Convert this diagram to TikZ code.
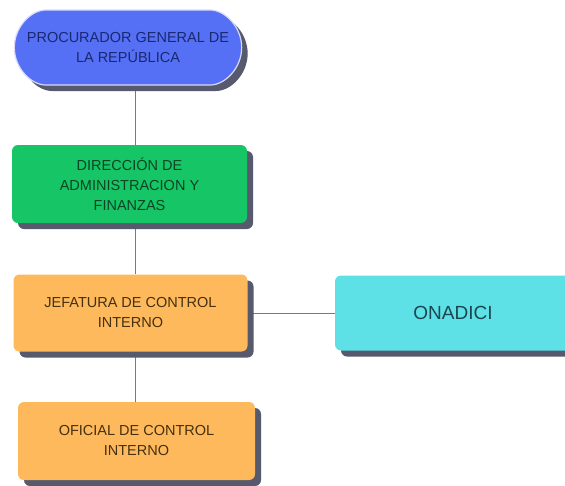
\documentclass[tikz,border=0pt]{standalone}
\usepackage{fontspec}
\setmainfont{Liberation Sans}
\usepackage{tikz}
\usetikzlibrary{shadows,backgrounds,shapes.misc}

\definecolor{pgrblue}{HTML}{5570F5}
\definecolor{pgrtext}{HTML}{1A2870}
\definecolor{dafgreen}{HTML}{16C566}
\definecolor{daftext}{HTML}{0C4424}
\definecolor{jciorange}{HTML}{FDB95C}
\definecolor{jcitext}{HTML}{45300F}
\definecolor{onacyan}{HTML}{5DE1E7}
\definecolor{onatext}{HTML}{1A4650}
\definecolor{shadowgray}{HTML}{565A6C}
\definecolor{linegray}{HTML}{7A7A7A}

\tikzset{
	orgbox/.style={rectangle, rounded corners=6pt, align=center,
		font=\fontsize{14.5}{20}\selectfont,
		drop shadow={shadow xshift=6pt, shadow yshift=-6pt,
			fill=shadowgray, opacity=1}},
	pillbox/.style={orgbox, rounded rectangle, fill=pgrblue, draw=blue!15!white,
		line width=1.2pt, text=pgrtext, minimum width=234pt, minimum height=75pt},
	greenbox/.style={orgbox, fill=dafgreen, text=daftext,
		minimum width=235pt, minimum height=78pt},
	orangebox/.style={orgbox, fill=jciorange, text=jcitext,
		minimum width=234pt, minimum height=77pt},
	cyanbox/.style={orgbox, fill=onacyan, text=onatext,
		font=\fontsize{19}{22}\selectfont,
		minimum width=236pt, minimum height=75pt},
	conn/.style={draw=linegray, line width=0.9pt}
}

\begin{document}
\begin{tikzpicture}[x=1pt,y=-1pt]
	% page frame (565 x 485)
	\useasboundingbox (0,0) rectangle (565,485);
	
	% boxes
	\node[pillbox]   (pgr) at (128,47.5) {PROCURADOR GENERAL DE\\LA REPÚBLICA};
	\node[greenbox]  (daf) at (129.5,184) {DIRECCIÓN DE\\ADMINISTRACION Y\\FINANZAS};
	\node[orangebox] (jci) at (130.5,313) {JEFATURA DE CONTROL\\INTERNO};
	\node[cyanbox]   (ona) at (453,313) {ONADICI};
	\node[orangebox, minimum width=237pt, minimum height=78pt]
		(oci) at (136.5,441) {OFICIAL DE CONTROL\\INTERNO};
	
	% connectors behind the boxes
	\coordinate (spine) at (135,0);
	\begin{pgfonlayer}{background}
		\draw[conn] (pgr.south -| spine) -- (daf.north -| spine);
		\draw[conn] (daf.south -| spine) -- (jci.north -| spine);
		\draw[conn] (jci.south -| spine) -- (oci.north -| spine);
		\draw[conn] (jci.east) -- (ona.west);
	\end{pgfonlayer}
\end{tikzpicture}
\end{document}
